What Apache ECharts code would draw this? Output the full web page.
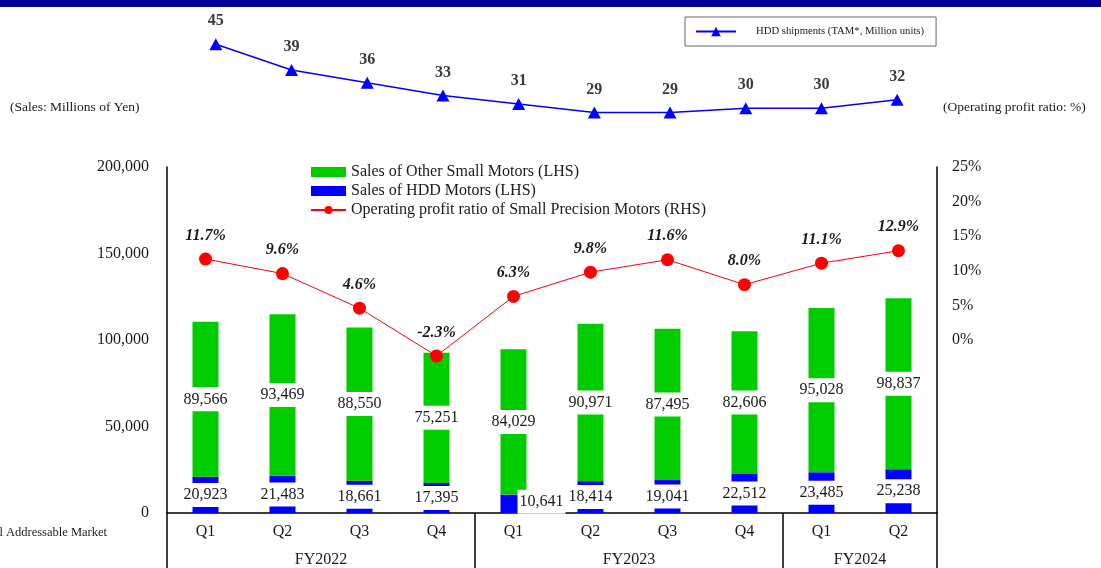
<!DOCTYPE html>
<html>
<head>
<meta charset="utf-8">
<script src="https://cdn.jsdelivr.net/npm/echarts@6/dist/echarts.min.js"></script>
<style>
  html, body { margin: 0; padding: 0; background: #fff; }
  #chart { width: 1101px; height: 568px; }
</style>
</head>
<body>
<div id="chart"></div>
<script>
// Quarterly sales (millions of yen), operating profit ratio and HDD market shipments
const quarters = ['Q1', 'Q2', 'Q3', 'Q4', 'Q1', 'Q2', 'Q3', 'Q4', 'Q1', 'Q2'];
const fiscalYears = ['FY2022', 'FY2023', 'FY2024'];
const fiscalYearQuarterCounts = [4, 4, 2];
const hddMotorSales = [20923, 21483, 18661, 17395, 10641, 18414, 19041, 22512, 23485, 25238];
const otherMotorSales = [89566, 93469, 88550, 75251, 84029, 90971, 87495, 82606, 95028, 98837];
const profitRatio = [11.7, 9.6, 4.6, -2.3, 6.3, 9.8, 11.6, 8.0, 11.1, 12.9];
const hddShipments = [45, 39, 36, 33, 31, 29, 29, 30, 30, 32];

const SERIF = 'Liberation Serif';
const TEXT = '#1a1a1a';

// Fiscal-year group boundaries and centres along the quarter axis
const fyBounds = [0];
fiscalYearQuarterCounts.forEach(n => fyBounds.push(fyBounds[fyBounds.length - 1] + n));
const fyCentres = fiscalYears.map((_, i) => (fyBounds[i] + fyBounds[i + 1]) / 2);

const fmt = v => Number(v).toLocaleString('en-US');

const barLabel = {
  show: true,
  position: 'inside',
  formatter: p => fmt(p.value),
  fontFamily: SERIF,
  fontSize: 16,
  color: TEXT,
  backgroundColor: '#ffffff',
  padding: [4, 2]
};

// Segments too short to hold their label get the label pushed to the right
const hddData = hddMotorSales.map(v => v < 15000
  ? { value: v, label: { offset: [28, -2] } }
  : v);

const chart = echarts.init(document.getElementById('chart'), null, { renderer: 'canvas' });

chart.setOption({
  animation: false,
  backgroundColor: '#ffffff',
  textStyle: { fontFamily: SERIF },
  graphic: [
    { type: 'rect', left: 0, top: 0, shape: { width: 1101, height: 7 }, style: { fill: '#000099' }, silent: true },
    { type: 'text', left: 10, top: 100, style: { text: '(Sales: Millions of Yen)', font: '13.5px "Liberation Serif"', fill: TEXT } },
    { type: 'text', left: 943, top: 100, style: { text: '(Operating profit ratio: %)', font: '13.5px "Liberation Serif"', fill: TEXT } },
    { type: 'text', right: 994, top: 526, style: { text: '*TAM: Total Addressable Market', font: '12.5px "Liberation Serif"', fill: TEXT } }
  ],
  legend: [
    {
      orient: 'vertical',
      left: 305,
      top: 159,
      itemWidth: 35,
      itemHeight: 10,
      itemGap: 3,
      textStyle: { fontFamily: SERIF, fontSize: 16, color: TEXT },
      data: [
        { name: 'Sales of Other Small Motors (LHS)', icon: 'rect' },
        { name: 'Sales of HDD Motors (LHS)', icon: 'rect' },
        { name: 'Operating profit ratio of Small Precision Motors (RHS)' }
      ]
    },
    {
      left: 685,
      top: 17,
      borderColor: '#666',
      borderWidth: 1,
      padding: [9, 12, 9, 10],
      itemWidth: 40,
      itemHeight: 12,
      textStyle: { fontFamily: SERIF, fontSize: 10.7, color: TEXT, padding: [0, 0, 0, 15] },
      data: ['HDD shipments (TAM*, Million units)']
    }
  ],
  grid: [
    { left: 167, right: 164, top: 167, bottom: 55 },
    { left: 178, right: 166, top: 23, height: 128 }
  ],
  xAxis: [
    {
      type: 'category',
      gridIndex: 0,
      data: quarters,
      axisLine: { onZero: false, lineStyle: { color: '#000', width: 1.5 } },
      axisTick: { show: false },
      axisLabel: { fontFamily: SERIF, fontSize: 16, color: TEXT, margin: 11 }
    },
    {
      type: 'value',
      gridIndex: 0,
      position: 'bottom',
      min: 0,
      max: quarters.length,
      splitLine: { show: false },
      axisLine: { show: false, onZero: false },
      axisTick: { show: true, inside: false, length: 55, customValues: fyBounds, lineStyle: { color: '#000', width: 1.5 } },
      axisLabel: {
        customValues: fyCentres,
        formatter: v => fiscalYears[fyCentres.indexOf(v)] || '',
        fontFamily: SERIF, fontSize: 16, color: TEXT, margin: 39
      }
    },
    { type: 'category', gridIndex: 1, data: quarters, show: false }
  ],
  yAxis: [
    {
      type: 'value',
      gridIndex: 0,
      min: 0,
      max: 200000,
      interval: 50000,
      splitLine: { show: false },
      axisTick: { show: false },
      axisLine: { show: true, onZero: false, lineStyle: { color: '#000', width: 1.5 } },
      axisLabel: { formatter: v => fmt(v), fontFamily: SERIF, fontSize: 16, color: TEXT, margin: 18 }
    },
    {
      type: 'value',
      gridIndex: 0,
      position: 'right',
      min: -25,
      max: 25,
      interval: 5,
      splitLine: { show: false },
      axisTick: { show: false },
      axisLine: { show: true, onZero: false, lineStyle: { color: '#000', width: 1.5 } },
      axisLabel: { formatter: v => (v < 0 ? '' : v + '%'), fontFamily: SERIF, fontSize: 16, color: TEXT, margin: 15 }
    },
    { type: 'value', gridIndex: 1, min: 20, max: 50, show: false }
  ],
  series: [
    {
      name: 'Sales of HDD Motors (LHS)',
      type: 'bar',
      stack: 'sales',
      xAxisIndex: 0,
      yAxisIndex: 0,
      barWidth: 26,
      itemStyle: { color: '#0000ff' },
      label: barLabel,
      data: hddData
    },
    {
      name: 'Sales of Other Small Motors (LHS)',
      type: 'bar',
      stack: 'sales',
      xAxisIndex: 0,
      yAxisIndex: 0,
      barWidth: 26,
      itemStyle: { color: '#00cc00' },
      label: barLabel,
      data: otherMotorSales
    },
    {
      name: 'Operating profit ratio of Small Precision Motors (RHS)',
      type: 'line',
      xAxisIndex: 0,
      yAxisIndex: 1,
      z: 5,
      symbol: 'circle',
      symbolSize: 13,
      lineStyle: { color: '#ff0000', width: 1 },
      itemStyle: { color: '#ff0000' },
      label: {
        show: true,
        position: 'top',
        distance: 9,
        formatter: p => p.value.toFixed(1) + '%',
        fontFamily: SERIF,
        fontSize: 16,
        fontWeight: 'bold',
        fontStyle: 'italic',
        color: TEXT
      },
      data: profitRatio
    },
    {
      name: 'HDD shipments (TAM*, Million units)',
      type: 'line',
      xAxisIndex: 2,
      yAxisIndex: 2,
      symbol: 'triangle',
      symbolSize: [13, 12],
      lineStyle: { color: '#0000ff', width: 1.5 },
      itemStyle: { color: '#0000ff' },
      label: {
        show: true,
        position: 'top',
        distance: 9,
        fontFamily: SERIF,
        fontSize: 16,
        fontWeight: 'bold',
        color: '#3a3a3a'
      },
      data: hddShipments
    }
  ]
});
</script>
</body>
</html>
